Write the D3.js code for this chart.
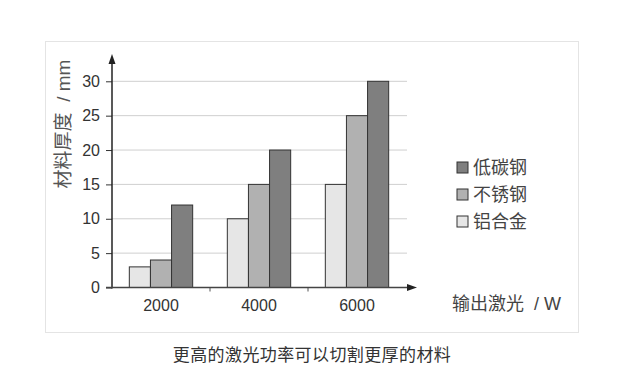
<!DOCTYPE html>
<html lang="zh">
<head>
<meta charset="utf-8">
<title>激光功率与切割厚度</title>
<script src="https://d3js.org/d3.v7.min.js"></script>
<style>
  body { margin: 0; background: #fff; }
  text { font-family: "Liberation Sans", "Noto Sans CJK SC", sans-serif; white-space: pre; }
</style>
</head>
<body>
<script>
  // data
  var powers = ["2000", "4000", "6000"];
  var materials = ["铝合金", "不锈钢", "低碳钢"];
  var aluminium = [3, 10, 15];
  var stainless = [4, 15, 25];
  var carbon = [12, 20, 30];
  var yTicks = [0, 5, 10, 15, 20, 25, 30];
  var legendOrder = ["低碳钢", "不锈钢", "铝合金"];

  var w = 626, h = 390;
  var colors = d3.scaleOrdinal()
    .domain(materials)
    .range(["#e6e6e6", "#b1b1b1", "#7f7f7f"]);

  var rows = powers.map(function (p, i) {
    return { power: p, values: [aluminium[i], stainless[i], carbon[i]] };
  });

  var svg = d3.select("body").append("svg")
    .attr("width", w)
    .attr("height", h);

  // outer frame
  svg.append("rect")
    .attr("x", 45.5).attr("y", 41.5)
    .attr("width", 533).attr("height", 291)
    .attr("fill", "none")
    .attr("stroke", "#e4e4e4");

  var x0 = 112, yBase = 287.5;

  var xScale = d3.scaleBand()
    .domain(powers)
    .range([x0, 406]);

  var xInner = d3.scaleBand()
    .domain(materials)
    .range([0, xScale.bandwidth()])
    .paddingInner(0)
    .paddingOuter(0.82);

  var yScale = d3.scaleLinear()
    .domain([0, 30])
    .range([yBase, 81.3]);

  // gridlines
  svg.append("g")
    .selectAll("line")
    .data(yTicks.filter(function (d) { return d > 0; }))
    .enter().append("line")
    .attr("x1", x0).attr("x2", 407)
    .attr("y1", function (d) { return yScale(d); })
    .attr("y2", function (d) { return yScale(d); })
    .attr("stroke", "#cfcfcf")
    .attr("stroke-width", 1);

  // bars
  var groups = svg.append("g")
    .selectAll("g")
    .data(rows)
    .enter().append("g")
    .attr("transform", function (d) { return "translate(" + xScale(d.power) + ",0)"; });

  groups.selectAll("rect")
    .data(function (d) {
      return d.values.map(function (v, i) { return { key: materials[i], value: v }; });
    })
    .enter().append("rect")
    .attr("x", function (d) { return xInner(d.key); })
    .attr("y", function (d) { return yScale(d.value); })
    .attr("width", xInner.bandwidth())
    .attr("height", function (d) { return yBase - yScale(d.value); })
    .attr("fill", function (d) { return colors(d.key); })
    .attr("stroke", "#333")
    .attr("stroke-width", 1);

  // y axis
  var yAxis = d3.axisLeft(yScale)
    .tickValues(yTicks)
    .tickSize(6)
    .tickPadding(6);

  var gy = svg.append("g")
    .attr("transform", "translate(" + x0 + ",0)")
    .call(yAxis);
  gy.select(".domain").remove();
  gy.selectAll(".tick line").attr("stroke", "#333");
  gy.selectAll(".tick text")
    .attr("fill", "#333")
    .style("font-size", "16px");

  // x axis
  var xAxis = d3.axisBottom(xScale)
    .tickSize(0)
    .tickPadding(12);
  var gx = svg.append("g")
    .attr("transform", "translate(0," + yBase + ")")
    .call(xAxis);
  gx.select(".domain").remove();
  gx.selectAll(".tick text")
    .attr("fill", "#333")
    .style("font-size", "16px");

  // x axis small ticks at band boundaries
  svg.append("g")
    .selectAll("line")
    .data(powers.slice(1))
    .enter().append("line")
    .attr("x1", function (d) { return xScale(d); })
    .attr("x2", function (d) { return xScale(d); })
    .attr("y1", yBase).attr("y2", yBase + 4)
    .attr("stroke", "#555");

  // axis lines with arrows
  svg.append("line")
    .attr("x1", x0).attr("x2", x0)
    .attr("y1", yBase + 1).attr("y2", 62)
    .attr("stroke", "#222").attr("stroke-width", 1.5);
  svg.append("path")
    .attr("d", "M" + x0 + ",54 L" + (x0 - 3.5) + ",64 L" + (x0 + 3.5) + ",64 Z")
    .attr("fill", "#222");

  svg.append("line")
    .attr("x1", x0 - 6).attr("x2", 410)
    .attr("y1", yBase).attr("y2", yBase)
    .attr("stroke", "#444").attr("stroke-width", 1.3);
  svg.append("path")
    .attr("d", "M417," + yBase + " L407," + (yBase - 3.5) + " L407," + (yBase + 3.5) + " Z")
    .attr("fill", "#222");

  // axis titles
  svg.append("text")
    .attr("transform", "translate(70,124) rotate(-90)")
    .attr("text-anchor", "middle")
    .attr("fill", "#555")
    .style("font-size", "19px")
    .text("材料厚度  / mm");

  svg.append("text")
    .attr("x", 452).attr("y", 310)
    .attr("fill", "#444")
    .style("font-size", "18px")
    .text("输出激光  / W");

  // legend
  var legend = svg.append("g")
    .selectAll("g")
    .data(legendOrder)
    .enter().append("g")
    .attr("transform", function (d, i) { return "translate(457," + (167.5 + i * 27) + ")"; });

  legend.append("rect")
    .attr("x", 0).attr("y", -5.5)
    .attr("width", 11).attr("height", 11)
    .attr("fill", function (d) { return colors(d); })
    .attr("stroke", "#333");

  legend.append("text")
    .attr("x", 16).attr("y", 6.5)
    .attr("fill", "#444")
    .style("font-size", "18px")
    .text(function (d) { return d; });

  // caption
  svg.append("text")
    .attr("x", 312).attr("y", 361)
    .attr("text-anchor", "middle")
    .attr("fill", "#333")
    .style("font-size", "17px")
    .style("letter-spacing", "0.4px")
    .text("更高的激光功率可以切割更厚的材料");
</script>
</body>
</html>
